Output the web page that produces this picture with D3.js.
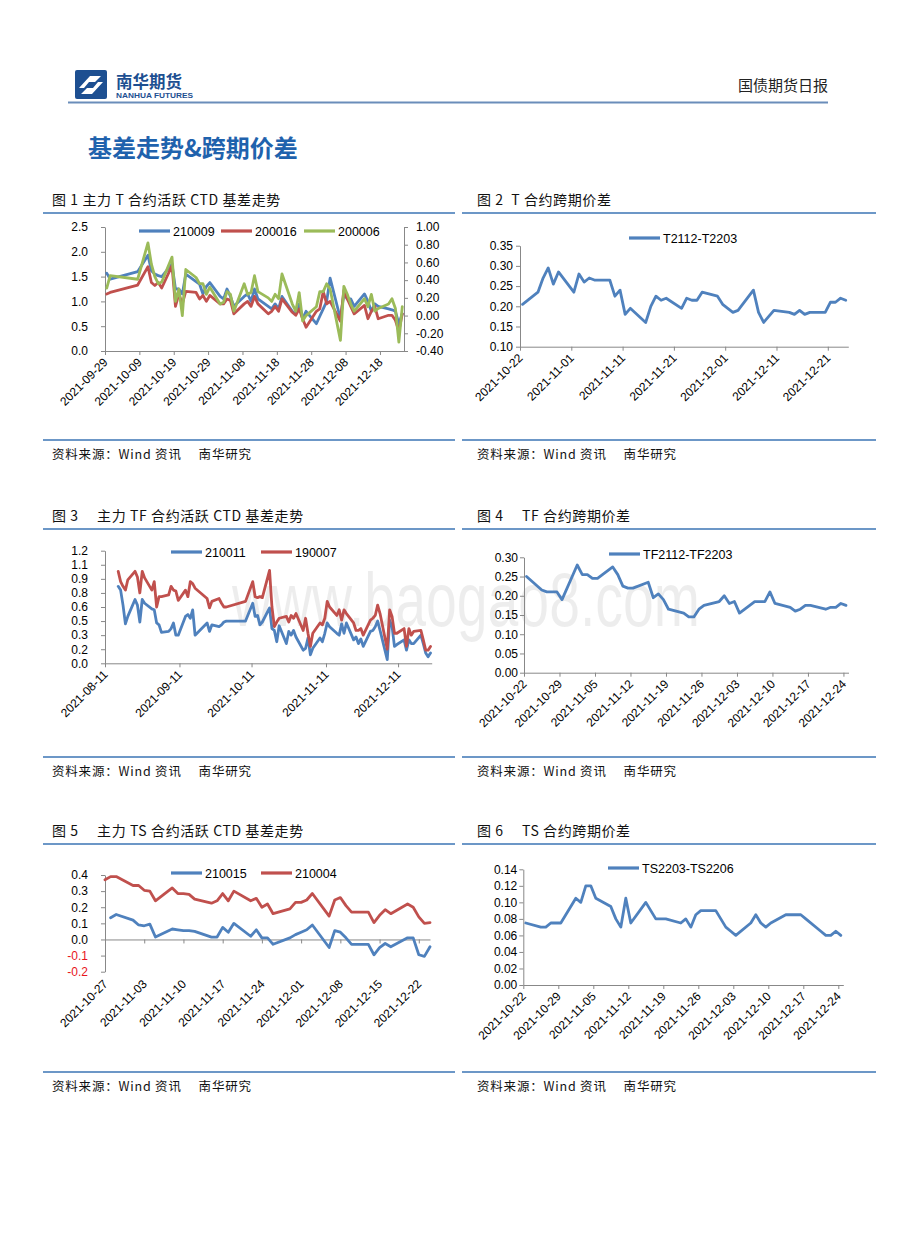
<!DOCTYPE html>
<html><head><meta charset="utf-8">
<script src="https://cdn.jsdelivr.net/npm/d3@7/dist/d3.min.js"></script>
<style>
body{margin:0;background:#fff;}
svg{display:block;}
</style></head>
<body>
<svg id="page" width="920" height="1249"></svg>
<script>
// ---------------- DATA ----------------
// Trading days (2021) used as categories
const tradingDays = [
 "08-16","08-17","08-18","08-19","08-20","08-23","08-24","08-25","08-26","08-27","08-30","08-31",
 "09-01","09-02","09-03","09-06","09-07","09-08","09-09","09-10","09-13","09-14","09-15","09-16","09-17",
 "09-22","09-23","09-24","09-27","09-28","09-29","09-30",
 "10-08","10-11","10-12","10-13","10-14","10-15","10-18","10-19","10-20","10-21","10-22",
 "10-25","10-26","10-27","10-28","10-29",
 "11-01","11-02","11-03","11-04","11-05","11-08","11-09","11-10","11-11","11-12",
 "11-15","11-16","11-17","11-18","11-19","11-22","11-23","11-24","11-25","11-26","11-29","11-30",
 "12-01","12-02","12-03","12-06","12-07","12-08","12-09","12-10",
 "12-13","12-14","12-15","12-16","12-17","12-20","12-21","12-22","12-23","12-24"
].map(s => "2021-" + s);
const daysFrom = s => tradingDays.slice(tradingDays.indexOf(s));

// Chart 1: T CTD basis
const t_dates = daysFrom("2021-09-29");
const t_210009 = [1.57,1.45,1.60,1.93,1.62,1.55,1.52,1.50,1.75,1.25,1.25,1.15,1.55,1.40,1.35,1.15,1.30,1.38,1.10,1.05,1.25,1.10,0.90,1.10,1.15,1.00,1.25,1.05,0.90,0.85,0.95,0.85,1.10,0.80,0.75,0.95,0.65,0.80,0.55,0.70,0.85,1.00,1.47,0.65,1.15,1.05,1.05,0.90,1.15,1.00,0.80,0.95,0.90,0.85,0.83,0.80,0.55,0.75];
const t_200016 = [1.15,1.18,1.33,1.70,1.38,1.32,1.38,1.27,1.72,0.90,1.15,0.95,1.20,1.18,1.05,1.12,1.00,1.12,0.95,0.95,1.05,1.02,0.75,0.95,1.00,0.90,1.10,0.95,0.75,0.80,0.90,0.80,1.05,0.78,0.72,0.85,0.65,0.48,0.80,0.85,1.20,0.95,1.00,0.60,1.22,1.05,0.90,0.75,0.92,0.65,0.80,0.90,0.65,0.72,0.72,0.62,0.40,0.75];
const t_200006 = [0.31,0.45,0.41,0.82,0.58,0.44,0.36,0.38,0.66,0.16,0.30,0.00,0.52,0.43,0.36,0.36,0.24,0.32,0.13,0.15,0.27,0.24,0.05,0.36,0.24,0.26,0.45,0.27,0.20,0.16,0.24,0.19,0.47,0.13,0.05,0.26,-0.06,0.00,0.10,0.27,0.27,0.36,0.30,-0.28,0.33,0.24,0.13,0.05,0.19,0.10,0.24,0.05,0.08,0.13,0.19,0.08,-0.30,0.10];
const t_xTicks = ["2021-09-29","2021-10-09","2021-10-19","2021-10-29","2021-11-08","2021-11-18","2021-11-28","2021-12-08","2021-12-18"];
const t_yTicks = [0,0.5,1.0,1.5,2.0,2.5];
const t_yLabels = ["0.0","0.5","1.0","1.5","2.0","2.5"];
const t_yTicksR = [-0.4,-0.2,0,0.2,0.4,0.6,0.8,1.0];
const t_yLabelsR = ["-0.40","-0.20","0.00","0.20","0.40","0.60","0.80","1.00"];

// Chart 2: T calendar spread
const sp_dates = daysFrom("2021-10-22");
const t_spread = [0.205,0.235,0.27,0.295,0.255,0.285,0.235,0.28,0.26,0.27,0.265,0.265,0.225,0.24,0.18,0.195,0.16,0.20,0.225,0.215,0.22,0.195,0.22,0.215,0.215,0.235,0.225,0.205,0.195,0.185,0.19,0.24,0.185,0.16,0.175,0.19,0.185,0.18,0.19,0.18,0.185,0.185,0.21,0.21,0.22,0.215];
const sp10_xTicks = ["2021-10-22","2021-11-01","2021-11-11","2021-11-21","2021-12-01","2021-12-11","2021-12-21"];
const t_sp_yTicks = [0.10,0.15,0.20,0.25,0.30,0.35];
const t_sp_yLabels = ["0.10","0.15","0.20","0.25","0.30","0.35"];

// Chart 3: TF CTD basis
const tf_dates = daysFrom("2021-08-16");
const tf_210011 = [0.82,0.78,0.62,0.42,0.50,0.68,0.62,0.44,0.68,0.64,0.58,0.57,
 0.43,0.41,0.33,0.34,0.37,0.43,0.30,0.30,0.50,0.52,0.48,0.57,0.30,0.43,0.34,0.41,0.39,0.41,0.44,0.45,
 0.45,0.64,0.50,0.51,0.41,0.44,0.59,0.37,0.35,0.23,0.40,0.21,0.34,0.30,0.35,0.28,
 0.14,0.16,0.27,0.09,0.16,0.27,0.23,0.32,0.43,0.39,0.32,0.30,0.42,0.32,0.43,0.25,0.28,0.21,0.26,0.18,0.34,0.35,
 0.39,0.45,0.35,0.04,0.46,0.39,0.18,0.20,0.25,0.14,0.25,0.21,0.21,0.30,0.21,0.11,0.07,0.11];
const tf_190007 = [0.98,0.87,0.82,0.78,0.89,0.98,0.92,0.75,0.98,0.91,0.78,0.87,
 0.60,0.71,0.71,0.73,0.82,0.78,0.77,0.67,0.78,0.71,0.87,0.85,0.80,0.69,0.59,0.66,0.69,0.64,0.60,0.60,
 0.66,0.87,0.71,0.70,0.71,0.70,0.99,0.60,0.39,0.44,0.48,0.50,0.44,0.51,0.48,0.53,
 0.35,0.48,0.32,0.18,0.32,0.43,0.41,0.48,0.66,0.60,0.51,0.57,0.46,0.57,0.53,0.43,0.35,0.35,0.37,0.30,0.46,0.48,
 0.51,0.62,0.53,0.15,0.57,0.50,0.32,0.32,0.37,0.18,0.37,0.30,0.34,0.35,0.25,0.14,0.14,0.18];
const tf_xTicks = ["2021-08-11","2021-09-11","2021-10-11","2021-11-11","2021-12-11"];
const tf_yTicks = [0,0.15,0.30,0.45,0.60,0.75,0.90,1.05,1.20];
const tf_yLabels = ["0.0","0.2","0.3","0.5","0.6","0.8","0.9","1.1","1.2"];

// Chart 4: TF calendar spread
const tf_spread = [0.25,0.215,0.21,0.21,0.21,0.19,0.28,0.255,0.255,0.245,0.245,0.275,0.255,0.225,0.22,0.22,0.235,0.195,0.205,0.19,0.165,0.155,0.145,0.145,0.165,0.175,0.185,0.20,0.18,0.185,0.155,0.185,0.185,0.185,0.21,0.18,0.17,0.16,0.165,0.175,0.175,0.165,0.17,0.17,0.18,0.175];
const sp7_xTicks = ["2021-10-22","2021-10-29","2021-11-05","2021-11-12","2021-11-19","2021-11-26","2021-12-03","2021-12-10","2021-12-17","2021-12-24"];
const tf_sp_yTicks = [0,0.05,0.10,0.15,0.20,0.25,0.30];
const tf_sp_yLabels = ["0.00","0.05","0.10","0.15","0.20","0.25","0.30"];

// Chart 5: TS CTD basis
const ts_dates = daysFrom("2021-10-27");
const ts_210015 = [null,0.135,0.155,0.12,0.09,0.085,0.095,0.015,0.065,0.06,0.055,0.055,0.05,0.015,0.015,0.075,0.045,0.10,0.02,0.06,0.01,0.01,-0.03,0.01,0.03,0.045,0.06,0.09,-0.05,0.055,0.045,0.01,-0.03,-0.03,-0.095,-0.05,-0.025,-0.045,0.01,0.01,-0.095,-0.105,-0.045];
const ts_210004 = [0.37,0.39,0.39,0.335,0.335,0.305,0.30,0.24,0.32,0.285,0.285,0.28,0.25,0.225,0.24,0.285,0.24,0.30,0.24,0.255,0.20,0.22,0.16,0.19,0.23,0.23,0.245,0.285,0.145,0.245,0.26,0.21,0.17,0.17,0.105,0.15,0.185,0.16,0.22,0.20,0.14,0.10,0.105];
const ts_xTicks = ["2021-10-27","2021-11-03","2021-11-10","2021-11-17","2021-11-24","2021-12-01","2021-12-08","2021-12-15","2021-12-22"];
const ts_yTicks = [-0.2,-0.1,0,0.1,0.2,0.3,0.4];
const ts_yLabels = ["-0.2","-0.1","0.0","0.1","0.2","0.3","0.4"];

// Chart 6: TS calendar spread
const ts_spread = [0.075,0.07,0.07,0.075,0.075,0.075,0.105,0.10,0.12,0.12,0.105,0.095,0.08,0.07,0.105,0.075,0.10,0.09,0.08,0.08,0.08,0.075,0.08,0.07,0.085,0.09,0.09,0.08,0.07,0.065,0.06,0.075,0.085,0.075,0.07,0.075,0.085,0.085,0.085,0.085,0.08,0.065,0.06,0.06,0.065,0.06];
const ts_sp_yTicks = [0,0.02,0.04,0.06,0.08,0.10,0.12,0.14];
const ts_sp_yLabels = ["0.00","0.02","0.04","0.06","0.08","0.10","0.12","0.14"];

// ---------------- DRAWING ----------------
const svg = d3.select("#page");
const parse = d3.utcParse("%Y-%m-%d");
const fmt = d3.utcFormat("%Y-%m-%d");
const NUM = "'Liberation Sans', Arial, sans-serif";
const CJK = "'Noto Sans CJK SC', 'Noto Sans', sans-serif";
const AXIS = "#888888";
const BLUE = "#4f81bd", RED = "#c0504d", GREEN = "#9bbb59";
const RULE = "#3b74b4";

svg.append("rect").attr("width",920).attr("height",1249).attr("fill","#fff");

// faint watermark of the source page (drawn underneath the charts)
svg.append("text").attr("x",232).attr("y",626).attr("font-family",NUM).attr("font-size",76)
  .attr("textLength",468).attr("lengthAdjust","spacingAndGlyphs")
  .attr("fill","#000").attr("fill-opacity",0.07).text("www.baogao8.com");

// ---- header ----
const logo = svg.append("g");
logo.append("rect").attr("x",75).attr("y",70).attr("width",32).attr("height",29).attr("rx",2).attr("fill","#1d4f91");
logo.append("path").attr("d","M79,88 L90,76 L101,76 L95,82 L89,82 L84,88 Z").attr("fill","#fff");
logo.append("path").attr("d","M103,82 L92,94 L81,94 L87,88 L93,88 L98,82 Z").attr("fill","#fff");
svg.append("text").attr("x",116).attr("y",88).attr("font-family",CJK).attr("font-weight","bold")
  .attr("font-size",16.5).attr("fill","#1d4f91").text("南华期货");
svg.append("text").attr("x",116).attr("y",97.5).attr("font-family",NUM).attr("font-weight","bold")
  .attr("font-size",6.8).attr("fill","#1d4f91").attr("textLength",77).attr("lengthAdjust","spacingAndGlyphs").text("NANHUA FUTURES");
svg.append("text").attr("x",828).attr("y",91).attr("text-anchor","end").attr("font-family",CJK)
  .attr("font-size",15).attr("fill","#222").text("国债期货日报");
svg.append("line").attr("x1",68).attr("x2",828).attr("y1",102.5).attr("y2",102.5).attr("stroke","#6a8dba").attr("stroke-width",2);
svg.append("text").attr("x",88).attr("y",157).attr("font-family",CJK).attr("font-weight","bold")
  .attr("font-size",24).attr("fill","#1f62ad").text("基差走势&跨期价差");

// ---- panel frames ----
const panels = [
  {x:52, lx0:43, lx1:455, title:"图 1 主力 T 合约活跃 CTD 基差走势", tY:205, uY:213, bY:440},
  {x:477, lx0:462, lx1:876, title:"图 2  T 合约跨期价差", tY:205, uY:213, bY:440},
  {x:52, lx0:43, lx1:455, title:"图 3　 主力 TF 合约活跃 CTD 基差走势", tY:521, uY:529, bY:757},
  {x:477, lx0:462, lx1:876, title:"图 4　 TF 合约跨期价差", tY:521, uY:529, bY:757},
  {x:52, lx0:43, lx1:455, title:"图 5　 主力 TS 合约活跃 CTD 基差走势", tY:836, uY:844, bY:1072},
  {x:477, lx0:462, lx1:876, title:"图 6　 TS 合约跨期价差", tY:836, uY:844, bY:1072}
];
panels.forEach(p => {
  svg.append("text").attr("x",p.x).attr("y",p.tY).attr("font-family",CJK).attr("font-size",14)
    .attr("letter-spacing",0.6).attr("fill","#111").attr("xml:space","preserve").text(p.title);
  svg.append("line").attr("x1",p.lx0).attr("x2",p.lx1).attr("y1",p.uY).attr("y2",p.uY).attr("stroke",RULE).attr("stroke-width",1.6);
  svg.append("line").attr("x1",p.lx0).attr("x2",p.lx1).attr("y1",p.bY).attr("y2",p.bY).attr("stroke",RULE).attr("stroke-width",1.6);
  svg.append("text").attr("x",p.x).attr("y",p.bY+19).attr("font-family",CJK).attr("font-size",12.5)
    .attr("letter-spacing",0.8).attr("fill","#111").attr("xml:space","preserve").text("资料来源：Wind 资讯　 南华研究");
});

function styleAxis(sel){
  sel.select(".domain").attr("stroke",AXIS).attr("stroke-width",1);
  sel.selectAll(".tick line").attr("stroke",AXIS);
  sel.selectAll("text").attr("font-family",NUM).attr("font-size",12).attr("fill","#000");
}

function drawChart(c){
  const g = svg.append("g");
  const x = d3.scaleUtc().domain([parse(c.xStart), parse(c.xEnd)]).range([c.x0, c.x1]);
  const y = d3.scaleLinear().domain(c.yDomain).range([c.yBot, c.yTop]);
  const shift = c.offset ? 12 : 0;
  const px = s => x(d3.utcHour.offset(parse(s), shift));

  // left axis
  const yg = g.append("g").attr("transform",`translate(${c.x0},0)`)
    .call(d3.axisLeft(y).tickValues(c.yTicks).tickFormat((d,i)=>c.yLabels[i]).tickSize(4).tickSizeOuter(0).tickPadding(c.yPad));
  styleAxis(yg);
  yg.selectAll("text").attr("fill", d => d < 0 && c.negRed ? "#e8141b" : "#000");

  // right axis
  let yR = null;
  if (c.yDomainR){
    yR = d3.scaleLinear().domain(c.yDomainR).range([c.yBot, c.yTop]);
    const rg = g.append("g").attr("transform",`translate(${c.x1},0)`)
      .call(d3.axisRight(yR).tickValues(c.yTicksR).tickFormat((d,i)=>c.yLabelsR[i]).tickSize(4).tickSizeOuter(0).tickPadding(8));
    styleAxis(rg);
  }

  // x axis line + ticks
  const baseY = c.zeroAxis ? y(0) : c.yBot;
  const xg = g.append("g").attr("transform",`translate(0,${baseY})`)
    .call(d3.axisBottom(x).tickValues(c.xTicks.map(parse)).tickFormat("").tickSize(4).tickSizeOuter(0));
  styleAxis(xg);

  // rotated x labels
  const xl = g.append("g").attr("transform",`translate(0,${c.yBot})`)
    .call(d3.axisBottom(x).tickValues(c.xTicks.map(parse)).tickFormat(fmt).tickSize(0));
  xl.select(".domain").remove();
  styleAxis(xl);
  xl.selectAll("text").attr("x",0).attr("y",0).attr("dy","0.35em").attr("text-anchor","end")
    .attr("transform",`translate(${c.lblDx},${c.lblDy}) rotate(-45)`);

  // series
  c.series.forEach(s => {
    const sc = s.right ? yR : y;
    const line = d3.line().defined(d => d[1] != null).x(d => px(d[0])).y(d => sc(d[1]));
    g.append("path").datum(c.dates.map((dt,i)=>[dt, s.values[i]])).attr("d", line)
      .attr("fill","none").attr("stroke", s.color).attr("stroke-width",2.8)
      .attr("stroke-linejoin","round").attr("stroke-linecap","round");
  });

  // legend
  c.legend.forEach((L,i) => {
    const s = c.series[i];
    g.append("line").attr("x1",L.x).attr("x2",L.x+31).attr("y1",L.y).attr("y2",L.y)
      .attr("stroke", s.color).attr("stroke-width",3.2);
    g.append("text").attr("x",L.x+34).attr("y",L.y).attr("dy","0.36em").attr("font-family",NUM)
      .attr("font-size",12.5).attr("fill","#000").text(s.name);
  });
}

drawChart({
  x0:105, x1:404, yTop:227, yBot:351, xStart:"2021-09-29", xEnd:"2021-12-25", offset:true,
  yDomain:[0,2.5], yTicks:t_yTicks, yLabels:t_yLabels, yPad:13,
  yDomainR:[-0.4,1.0], yTicksR:t_yTicksR, yLabelsR:t_yLabelsR,
  xTicks:t_xTicks, lblDx:0, lblDy:9, dates:t_dates,
  series:[{name:"210009",values:t_210009,color:BLUE},{name:"200016",values:t_200016,color:RED},{name:"200006",values:t_200006,color:GREEN,right:true}],
  legend:[{x:139,y:231},{x:221,y:231},{x:304,y:231}]
});
drawChart({
  x0:520, x1:848.3, yTop:245.7, yBot:346.7, xStart:"2021-10-22", xEnd:"2021-12-25", offset:true,
  yDomain:[0.10,0.35], yTicks:t_sp_yTicks, yLabels:t_sp_yLabels, yPad:3,
  xTicks:sp10_xTicks, lblDx:0, lblDy:9, dates:sp_dates,
  series:[{name:"T2112-T2203",values:t_spread,color:BLUE}],
  legend:[{x:629,y:238}]
});
drawChart({
  x0:105, x1:431.7, yTop:550.7, yBot:663.3, xStart:"2021-08-11", xEnd:"2021-12-25", offset:true,
  yDomain:[0,1.2], yTicks:tf_yTicks, yLabels:tf_yLabels, yPad:13,
  xTicks:tf_xTicks, lblDx:0, lblDy:9, dates:tf_dates,
  series:[{name:"210011",values:tf_210011,color:BLUE},{name:"190007",values:tf_190007,color:RED}],
  legend:[{x:171,y:552},{x:261,y:552}]
});
drawChart({
  x0:524, x1:848.5, yTop:557.3, yBot:672.7, xStart:"2021-10-22", xEnd:"2021-12-25", offset:true,
  yDomain:[0,0.30], yTicks:tf_sp_yTicks, yLabels:tf_sp_yLabels, yPad:2,
  xTicks:sp7_xTicks, lblDx:0, lblDy:9, dates:sp_dates,
  series:[{name:"TF2112-TF2203",values:tf_spread,color:BLUE}],
  legend:[{x:609,y:554}]
});
drawChart({
  x0:105, x1:430, yTop:875, yBot:971.7, xStart:"2021-10-27", xEnd:"2021-12-24", offset:false,
  yDomain:[-0.2,0.4], yTicks:ts_yTicks, yLabels:ts_yLabels, yPad:13, negRed:true, zeroAxis:true,
  xTicks:ts_xTicks, lblDx:0, lblDy:10, dates:ts_dates,
  series:[{name:"210015",values:ts_210015,color:BLUE},{name:"210004",values:ts_210004,color:RED}],
  legend:[{x:171,y:873},{x:261,y:873}]
});
drawChart({
  x0:523.3, x1:843.3, yTop:869.3, yBot:985, xStart:"2021-10-22", xEnd:"2021-12-25", offset:true,
  yDomain:[0,0.14], yTicks:ts_sp_yTicks, yLabels:ts_sp_yLabels, yPad:2,
  xTicks:sp7_xTicks, lblDx:0, lblDy:9, dates:sp_dates,
  series:[{name:"TS2203-TS2206",values:ts_spread,color:BLUE}],
  legend:[{x:608,y:868}]
});
</script>
</body></html>
